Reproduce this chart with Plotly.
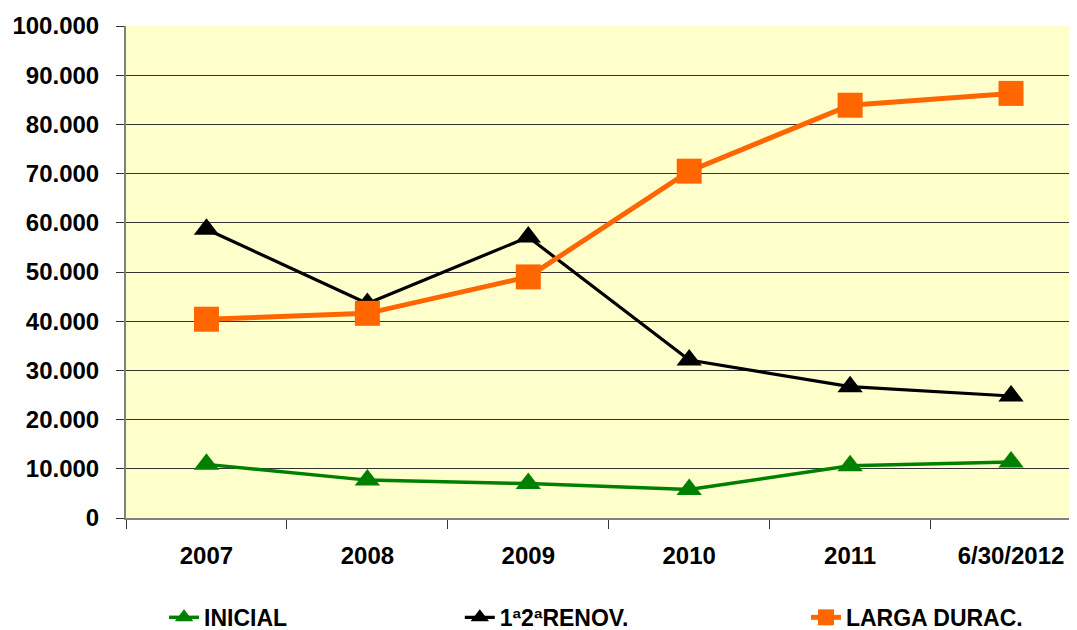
import plotly.graph_objects as go

categories = ["2007", "2008", "2009", "2010", "2011", "6/30/2012"]
inicial = [10900, 7700, 7000, 5800, 10600, 11400]
renov = [58700, 43600, 57100, 32100, 26700, 24800]
larga = [40400, 41600, 49000, 70500, 83900, 86300]
y_ticks = [0, 10000, 20000, 30000, 40000, 50000, 60000, 70000, 80000, 90000, 100000]

font_family = "Liberation Sans"

fig = go.Figure()
fig.add_trace(go.Scatter(
    x=categories, y=inicial, name="INICIAL", mode="lines+markers",
    line=dict(color="#008000", width=3.5),
    marker=dict(symbol="triangle-up", size=22, color="#008000"),
    legend="legend"))
fig.add_trace(go.Scatter(
    x=categories, y=renov, name="1ª2ªRENOV.", mode="lines+markers",
    line=dict(color="#000000", width=3.2),
    marker=dict(symbol="triangle-up", size=22, color="#000000"),
    legend="legend2"))
fig.add_trace(go.Scatter(
    x=categories, y=larga, name="LARGA DURAC.", mode="lines+markers",
    line=dict(color="#FF6600", width=5),
    marker=dict(symbol="square", size=25, color="#FF6600"),
    legend="legend3"))

legend_common = dict(orientation="h", yanchor="middle", y=-0.202, xanchor="left",
                     font=dict(family=font_family, size=23, color="#000000", weight="bold"),
                     bgcolor="rgba(0,0,0,0)", itemsizing="trace")

fig.update_layout(
    width=1077, height=630,
    margin=dict(l=118, r=8, t=18, b=120, autoexpand=False),
    paper_bgcolor="#FFFFFF",
    plot_bgcolor="#FFFFCC",
    separators=",.",
    font=dict(family=font_family, size=24, color="#000000"),
    showlegend=True,
    legend=dict(x=0.040, **legend_common),
    legend2=dict(x=0.351, **legend_common),
    legend3=dict(x=0.715, **legend_common),
    xaxis=dict(
        type="category", range=[-0.5, 5.41], automargin=False,
        showgrid=False, showline=True, linecolor="#808080", linewidth=2,
        ticks="outside", tickson="boundaries", ticklen=9, tickcolor="#333333",
        tickfont=dict(family=font_family, size=24, color="#000000", weight="bold"),
        ticklabelstandoff=15,
    ),
    yaxis=dict(
        range=[0, 100000], tickvals=y_ticks, tickformat=",d", automargin=False,
        showgrid=True, gridcolor="#333333", gridwidth=1,
        showline=True, linecolor="#808080", linewidth=2,
        ticks="outside", ticklen=8, tickcolor="#333333",
        tickfont=dict(family=font_family, size=24, color="#000000", weight="bold"),
        ticklabelstandoff=12,
        zeroline=False,
    ),
)

fig.write_html("out.html")
